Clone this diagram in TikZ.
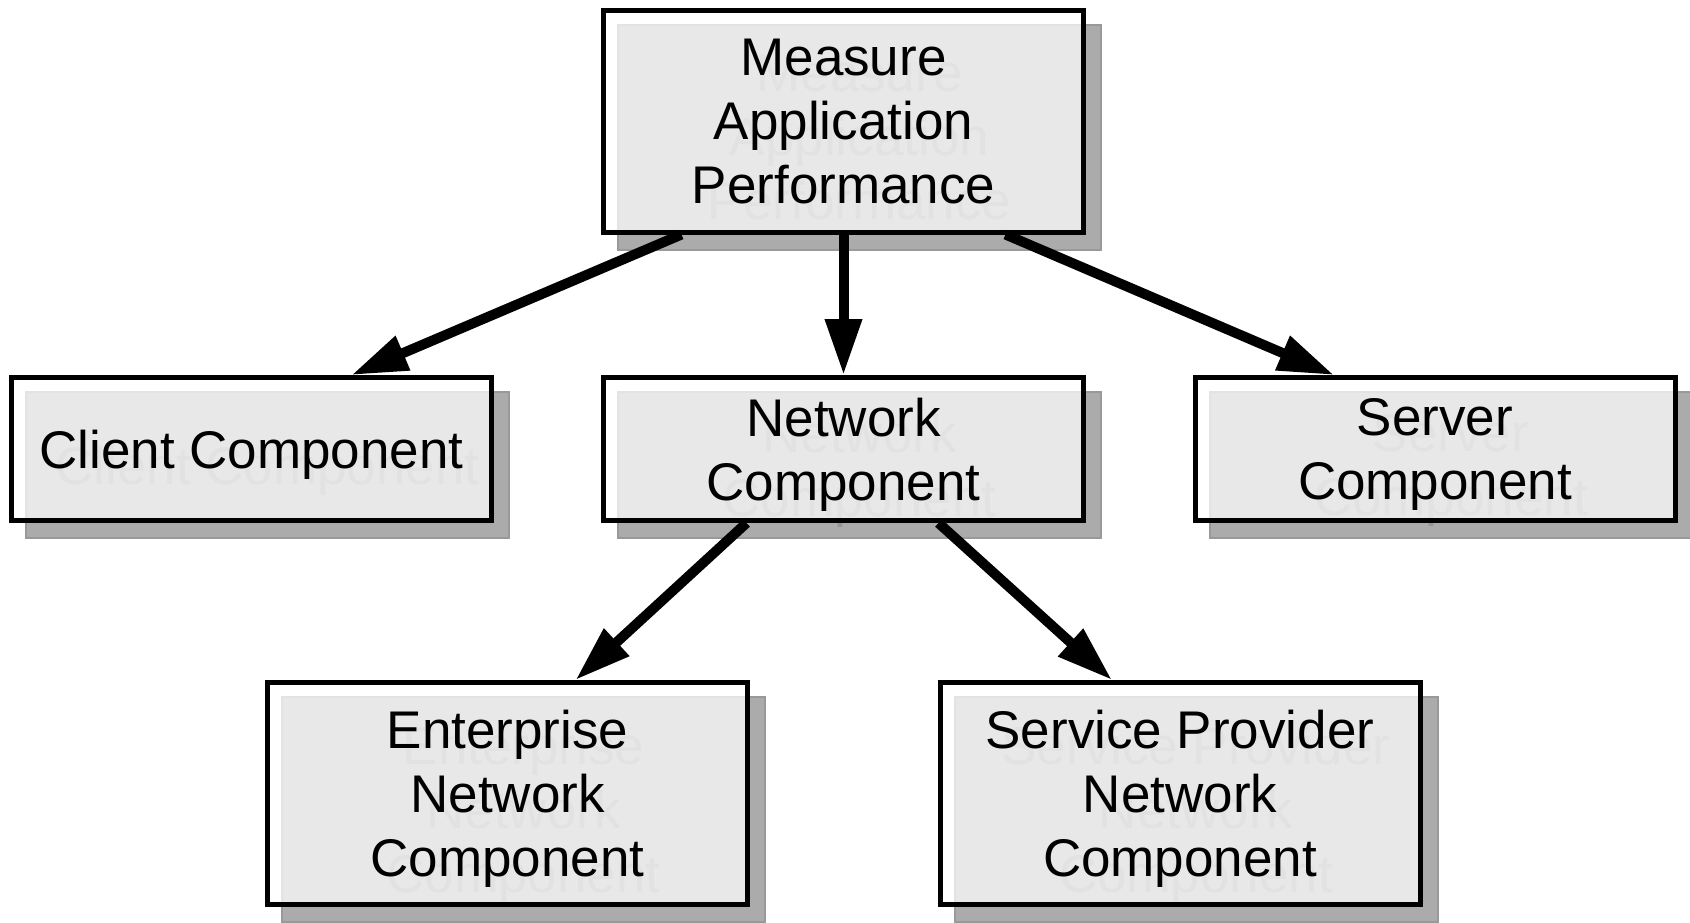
\documentclass[tikz,border=0pt]{standalone}
\usepackage{fontspec}
\setmainfont{Liberation Sans}
\usetikzlibrary{arrows.meta, calc}

\definecolor{shadowgray}{gray}{0.67}
\definecolor{shadowline}{gray}{0.6}
\definecolor{shadowtext}{gray}{0.58}

\tikzset{
    compbox/.style={draw=black, line width=2.5bp, fill=white, fill opacity=0.73, text opacity=1,
        minimum width=240bp, inner sep=0pt, align=center, text depth=-2bp,
        font=\fontsize{26.5bp}{32bp}\selectfont},
    shadebox/.style={draw=shadowline, line width=1bp, fill=shadowgray, text=shadowtext,
        minimum width=241.5bp, inner sep=0pt, align=center, text depth=-2bp,
        font=\fontsize{26.5bp}{32bp}\selectfont},
    link/.style={line width=5bp, -{Triangle[length=28bp,width=17.5bp]}}
}

\begin{document}
\begin{tikzpicture}[x=0.5bp, y=-0.5bp]
    \useasboundingbox (0,0) rectangle (1690,922);
    % shadow first, then the box on top of it
    \foreach \name/\pos/\h/\txt in {
        measure/{(843.5,121)}/111bp/{Measure\\Application\\Performance},
        client/{(251.5,449)}/71.5bp/{Client Component},
        network/{(843.5,449)}/71.5bp/{Network\\Component},
        server/{(1435,449)}/71.5bp/{Server\\Component},
        enterprise/{(507.5,793.5)}/111bp/{Enterprise\\Network\\Component},
        provider/{(1180,793.5)}/111bp/{Service Provider\\Network\\Component}} {
        \node[shadebox, minimum height=\h+1.5bp, xshift=8bp, yshift=-8bp] at \pos {\txt};
        \node[compbox, minimum height=\h] (\name) at \pos {\txt};
    }

    \draw[link] ($(measure.south)+(-162,0)$) -- ($(client.north)+(100,0)$);
    \draw[link] (measure.south) -- (network.north);
    \draw[link] ($(measure.south)+(162,0)$) -- ($(server.north)+(-101,0)$);

    \draw[link] ($(network.south)+(-97,0)$) -- ($(enterprise.north)+(68,0)$);
    \draw[link] ($(network.south)+(95,0)$) -- ($(provider.north)+(-68,0)$);
\end{tikzpicture}
\end{document}
